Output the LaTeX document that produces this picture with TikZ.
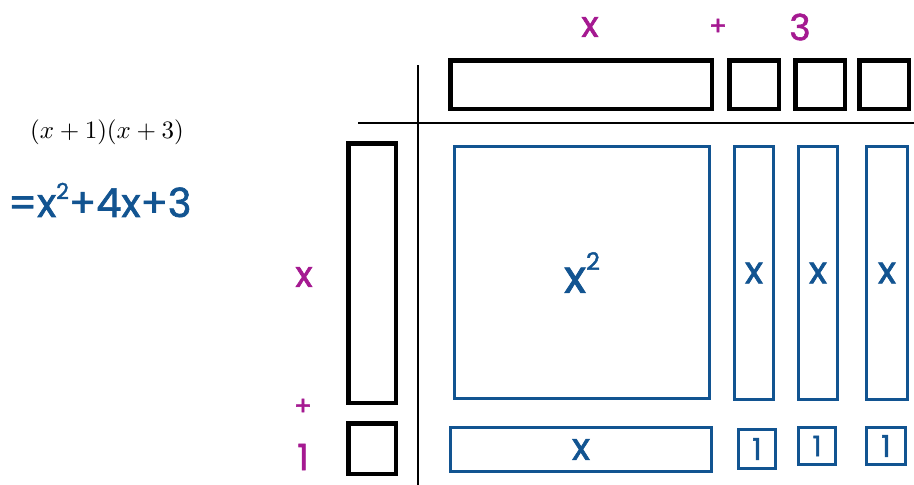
\documentclass[tikz,border=0pt]{standalone}
\usepackage{fontspec}
\newfontfamily\hand[FakeBold=1.6]{Poppins}
\definecolor{hblue}{RGB}{18,84,145}
\definecolor{hmag}{RGB}{165,25,145}
\begin{document}
\begin{tikzpicture}[x=1pt,y=-1pt,
  blk/.style={draw=black,line width=4.5pt,inner sep=0pt},
  blu/.style={draw=hblue,line width=2.6pt,inner sep=0pt,text=hblue,font=\hand\fontsize{38}{38}\selectfont},
  mag/.style={text=hmag,inner sep=0pt,font=\hand\fontsize{36}{36}\selectfont},
  axis/.style={draw=black,line width=1.6pt}]
\path[use as bounding box,fill=white] (0,0) rectangle (914,485);
% axes
\coordinate (vt) at (418,65);
\coordinate (vb) at (418,485);
\coordinate (hl) at (358,123);
\coordinate (hr) at (914,123);
\draw[axis] (vt) -- (vb);
\draw[axis] (hl) -- (hr);
% top black tiles
\node[blk,minimum width=261.5,minimum height=48.5] (tx) at (581,84.5) {};
\node[blk,minimum width=49.5,minimum height=48.5] (t1) at (754,84.5) {};
\node[blk,minimum width=49.5,minimum height=48.5] (t2) at (820,84.5) {};
\node[blk,minimum width=49.5,minimum height=48.5] (t3) at (884,84.5) {};
% left black tiles
\node[blk,minimum width=47.5,minimum height=259.5] (lx) at (372,273) {};
\node[blk,minimum width=47.5,minimum height=50.5] (l1) at (372,448.5) {};
% blue product tiles
\node[blu,minimum width=255.4,minimum height=252.4,font=\hand\fontsize{46}{46}\selectfont] (xx) at (582,272.5) {x\raisebox{0.5em}{\fontsize{24}{24}\selectfont 2}};
\node[blu,minimum width=39.4,minimum height=253.4] (c1) at (754,273) {x};
\node[blu,minimum width=39.4,minimum height=253.4] (c2) at (818,273) {x};
\node[blu,minimum width=41.4,minimum height=253.4] (c3) at (887,273) {x};
\node[blu,minimum width=261.4,minimum height=44.4] (bx) at (581,449.5) {x};
\node[blu,minimum width=37.4,minimum height=39.4,font=\hand\fontsize{30}{30}\selectfont] (b1) at (757,449) {1};
\node[blu,minimum width=37.4,minimum height=37.4,font=\hand\fontsize{28}{28}\selectfont] (b2) at (817,446) {1};
\node[blu,minimum width=39.4,minimum height=37.4,font=\hand\fontsize{30}{30}\selectfont] (b3) at (886,446) {1};
% magenta labels
\node[mag] (mx) at (590,27) {x};
\node[mag,font=\hand\fontsize{26}{26}\selectfont] (mp) at (718,27) {+};
\node[mag] (m3) at (800,27) {3};
\node[mag] (lxl) at (304,277) {x};
\node[mag,font=\hand\fontsize{26}{26}\selectfont] (lp) at (303,407) {+};
\node[mag] (l1l) at (303,457) {1};
% left expressions
\node[inner sep=0pt] (expr) at (107,132) {\scalebox{2.5}{$(x+1)(x+3)$}};
\node[inner sep=0pt,text=hblue,font=\hand\fontsize{40}{40}\selectfont,anchor=west] (res) at (8,200) {=x\raisebox{0.45em}{\fontsize{22}{22}\selectfont 2}+4x+3};
\end{tikzpicture}
\end{document}
